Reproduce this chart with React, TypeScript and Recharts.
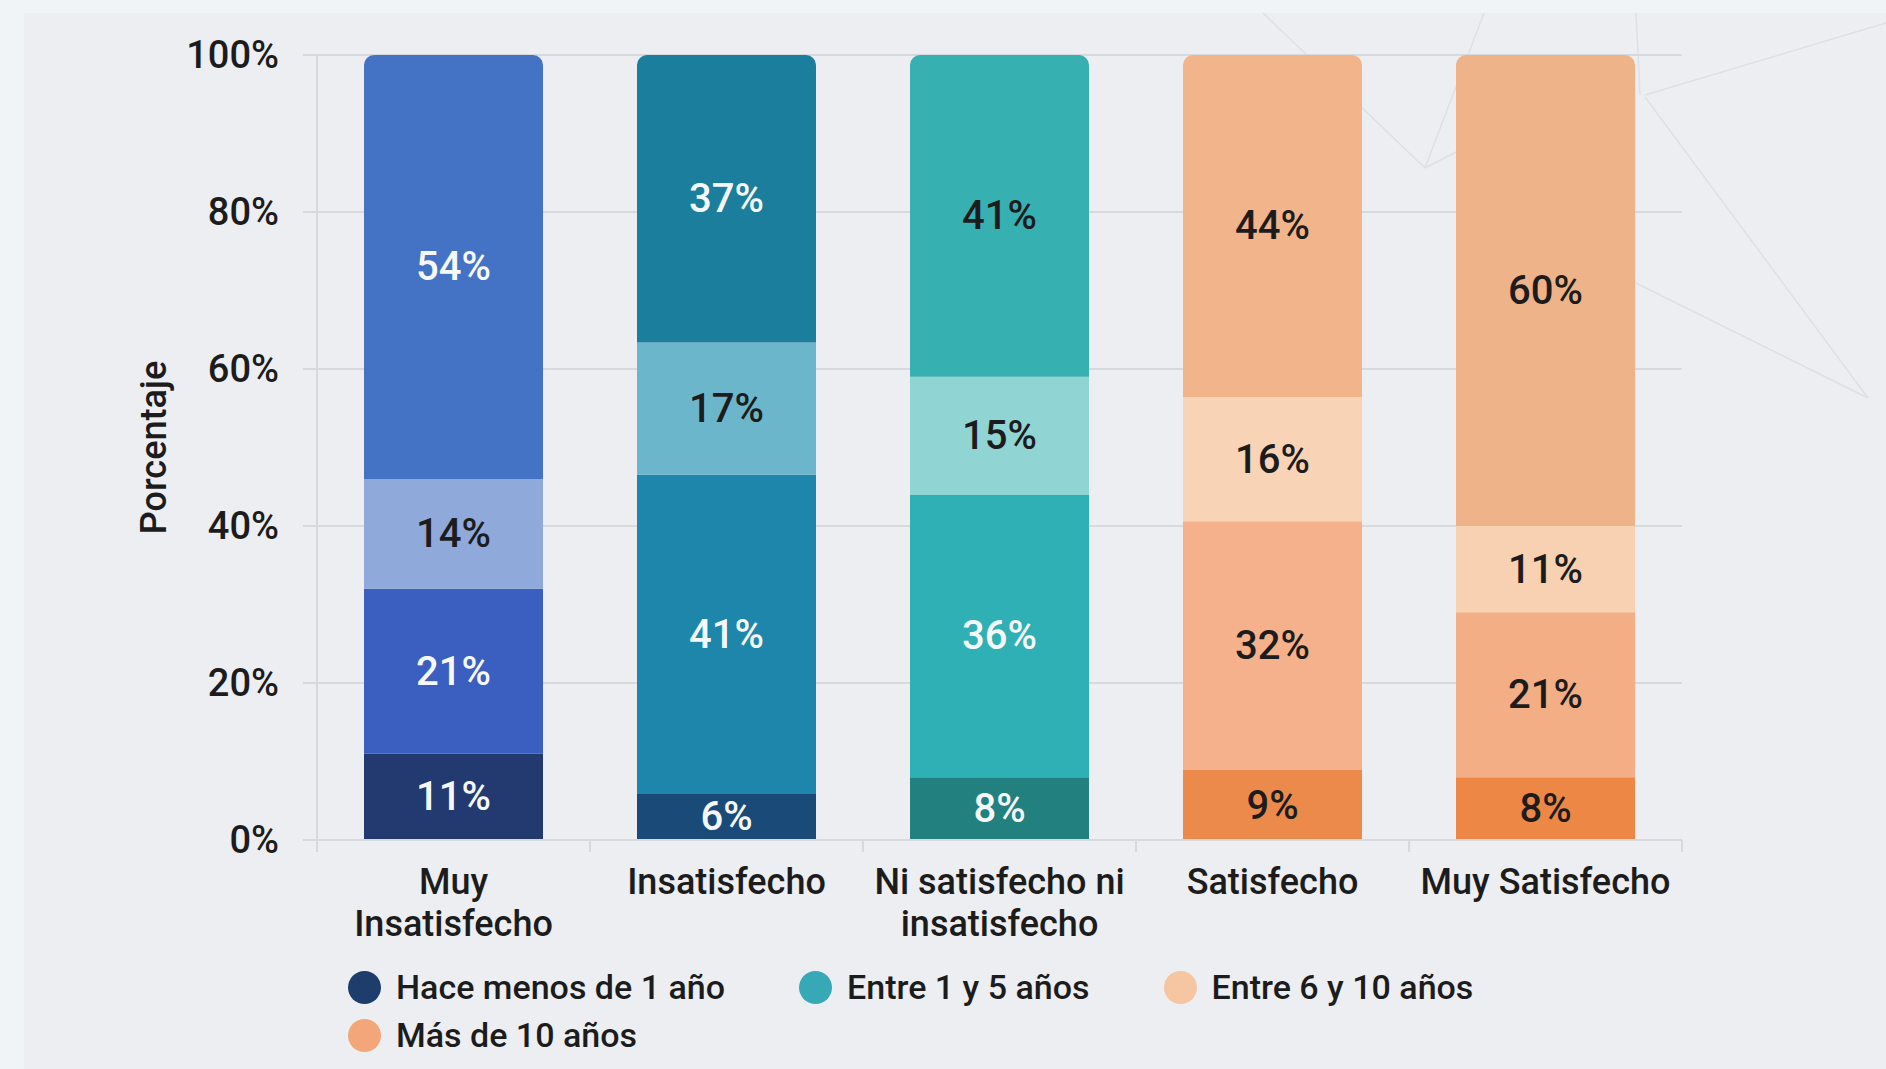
import React from 'react'
import { BarChart, Bar, XAxis, YAxis, CartesianGrid, Cell, LabelList, Label } from 'recharts'

const CATEGORIES = ['Muy Insatisfecho', 'Insatisfecho', 'Ni satisfecho ni insatisfecho', 'Satisfecho', 'Muy Satisfecho']
const TICK_LINES = [['Muy', 'Insatisfecho'], ['Insatisfecho'], ['Ni satisfecho ni', 'insatisfecho'], ['Satisfecho'], ['Muy Satisfecho']]

const MENOS_1 = [11, 6, 8, 9, 8]
const ENTRE_1_5 = [21, 41, 36, 32, 21]
const ENTRE_6_10 = [14, 17, 15, 16, 11]
const MAS_10 = [54, 37, 41, 44, 60]

const Y_TICKS = [0, 0.2, 0.4, 0.6, 0.8, 1]

const SERIES = [
  { key: 'menos1', name: 'Hace menos de 1 año', legend: '#1f3d6c' },
  { key: 'entre1y5', name: 'Entre 1 y 5 años', legend: '#36a8b6' },
  { key: 'entre6y10', name: 'Entre 6 y 10 años', legend: '#f6c5a2' },
  { key: 'mas10', name: 'Más de 10 años', legend: '#f2a679' },
]

// one colour per category for every segment
const FILLS: Record<string, string[]> = {
  menos1: ['#223a70', '#1a4a78', '#22807f', '#ec8a4b', '#ec8745'],
  entre1y5: ['#3a5fc0', '#1d86aa', '#2fb0b4', '#f4b18b', '#f3ae86'],
  entre6y10: ['#8fa9da', '#6cb6cb', '#90d4d3', '#f8d3b6', '#f8d0b2'],
  mas10: ['#4472c4', '#1b7e9d', '#37b0b2', '#f2b48b', '#efb389'],
}

const DARK = '#1c1c1c'
const LIGHT = '#f7f8fa'
const LABEL_COLORS: Record<string, string[]> = {
  menos1: [LIGHT, LIGHT, LIGHT, DARK, DARK],
  entre1y5: [LIGHT, LIGHT, LIGHT, DARK, DARK],
  entre6y10: [DARK, DARK, DARK, DARK, DARK],
  mas10: [LIGHT, LIGHT, DARK, DARK, DARK],
}

const data = CATEGORIES.map((name, i) => ({
  name,
  menos1: MENOS_1[i],
  entre1y5: ENTRE_1_5[i],
  entre6y10: ENTRE_6_10[i],
  mas10: MAS_10[i],
}))

const FONT = 'Roboto, "Noto Sans", sans-serif'
const GRID = '#d6d9dd'
const PLOT_LEFT = 317
const PLOT_RIGHT = 1682
const PLOT_TOP = 55
const PLOT_BOTTOM = 840
const BAND = (PLOT_RIGHT - PLOT_LEFT) / CATEGORIES.length

const makeLabel = (key: string) => (props: any) => {
  const { x, y, width, height, value, index } = props
  return (
    <text
      x={x + width / 2}
      y={y + height / 2}
      textAnchor="middle"
      dominantBaseline="central"
      fill={LABEL_COLORS[key][index]}
      fontSize={40}
      fontWeight={500}
      fontFamily={FONT}
    >
      {value}%
    </text>
  )
}

const CategoryTick = (props: any) => {
  const { x, payload, index } = props
  const lines = TICK_LINES[index] || [payload.value]
  const left = x - BAND / 2
  const right = x + BAND / 2
  return (
    <g>
      <line x1={left} y1={PLOT_BOTTOM} x2={left} y2={PLOT_BOTTOM + 12} stroke={GRID} strokeWidth={2} />
      {index === CATEGORIES.length - 1 && (
        <line x1={right} y1={PLOT_BOTTOM} x2={right} y2={PLOT_BOTTOM + 12} stroke={GRID} strokeWidth={2} />
      )}
      <text x={x} y={894} textAnchor="middle" fill={DARK} fontSize={36} fontWeight={500} fontFamily={FONT}>
        {lines.map((l: string, i: number) => (
          <tspan key={i} x={x} dy={i === 0 ? 0 : 42}>
            {l}
          </tspan>
        ))}
      </text>
    </g>
  )
}

const Decoration = () => (
  <svg width={1886} height={1069} style={{ position: 'absolute', left: 0, top: 0 }}>
    <rect x={0} y={0} width={1886} height={1069} fill="#f0f4f7" />
    <rect x={24} y={13} width={1862} height={1056} fill="#eceef2" />
    <g stroke="#dce1e7" strokeWidth={1.5} fill="none">
      <line x1={1263} y1={13} x2={1425} y2={168} />
      <line x1={1425} y1={168} x2={1484} y2={13} />
      <line x1={1425} y1={168} x2={1460} y2={150} />
      <line x1={1636} y1={13} x2={1640} y2={95} />
      <line x1={1645} y1={95} x2={1886} y2={23} />
      <line x1={1645} y1={97} x2={1868} y2={398} />
      <line x1={1636} y1={283} x2={1868} y2={398} />
    </g>
  </svg>
)

export default function App() {
  return (
    <div style={{ position: 'absolute', left: 0, top: 0, width: 1886, height: 1069, fontFamily: FONT }}>
      <Decoration />
      <div style={{ position: 'absolute', left: 0, top: 0 }}>
        <BarChart
          width={1886}
          height={1069}
          data={data}
          stackOffset="expand"
          margin={{ top: PLOT_TOP, right: 1886 - PLOT_RIGHT, left: 0, bottom: 129 }}
        >
          <CartesianGrid horizontal vertical={false} stroke={GRID} strokeWidth={2} />
          <XAxis
            dataKey="name"
            height={1069 - PLOT_BOTTOM - 129}
            axisLine={{ stroke: GRID, strokeWidth: 2 }}
            tickLine={false}
            interval={0}
            tick={<CategoryTick />}
          />
          <YAxis
            type="number"
            width={PLOT_LEFT}
            domain={[0, 1]}
            ticks={Y_TICKS}
            tickFormatter={(v: number) => `${Math.round(v * 100)}%`}
            tick={{ fill: DARK, fontSize: 38, fontWeight: 500, fontFamily: FONT }}
            tickSize={14}
            tickMargin={24}
            tickLine={{ stroke: GRID, strokeWidth: 2 }}
            axisLine={{ stroke: GRID, strokeWidth: 2 }}
          >
            <Label
              content={() => (
                <text
                  x={154}
                  y={(PLOT_TOP + PLOT_BOTTOM) / 2}
                  transform={`rotate(-90 154 ${(PLOT_TOP + PLOT_BOTTOM) / 2})`}
                  textAnchor="middle"
                  dominantBaseline="central"
                  fill={DARK}
                  fontSize={36}
                  fontWeight={500}
                  fontFamily={FONT}
                >
                  Porcentaje
                </text>
              )}
            />
          </YAxis>
          {SERIES.map((s, si) => (
            <Bar
              key={s.key}
              dataKey={s.key}
              name={s.name}
              stackId="a"
              barSize={179}
              isAnimationActive={false}
              radius={si === SERIES.length - 1 ? [10, 10, 0, 0] : 0}
            >
              {data.map((d, i) => (
                <Cell key={d.name} fill={FILLS[s.key][i]} />
              ))}
              <LabelList dataKey={s.key} content={makeLabel(s.key)} />
            </Bar>
          ))}
        </BarChart>
      </div>
      <div
        style={{
          position: 'absolute',
          left: 348,
          top: 967,
          width: 1220,
          display: 'flex',
          flexWrap: 'wrap',
          columnGap: 74,
          rowGap: 8,
        }}
      >
        {SERIES.map((s) => (
          <div key={s.key} style={{ display: 'flex', alignItems: 'center', height: 40 }}>
            <span
              style={{
                width: 33,
                height: 33,
                borderRadius: '50%',
                background: s.legend,
                marginRight: 15,
                display: 'inline-block',
              }}
            />
            <span style={{ fontSize: 34, fontWeight: 500, color: DARK, lineHeight: '40px', whiteSpace: 'nowrap' }}>
              {s.name}
            </span>
          </div>
        ))}
      </div>
    </div>
  )
}
